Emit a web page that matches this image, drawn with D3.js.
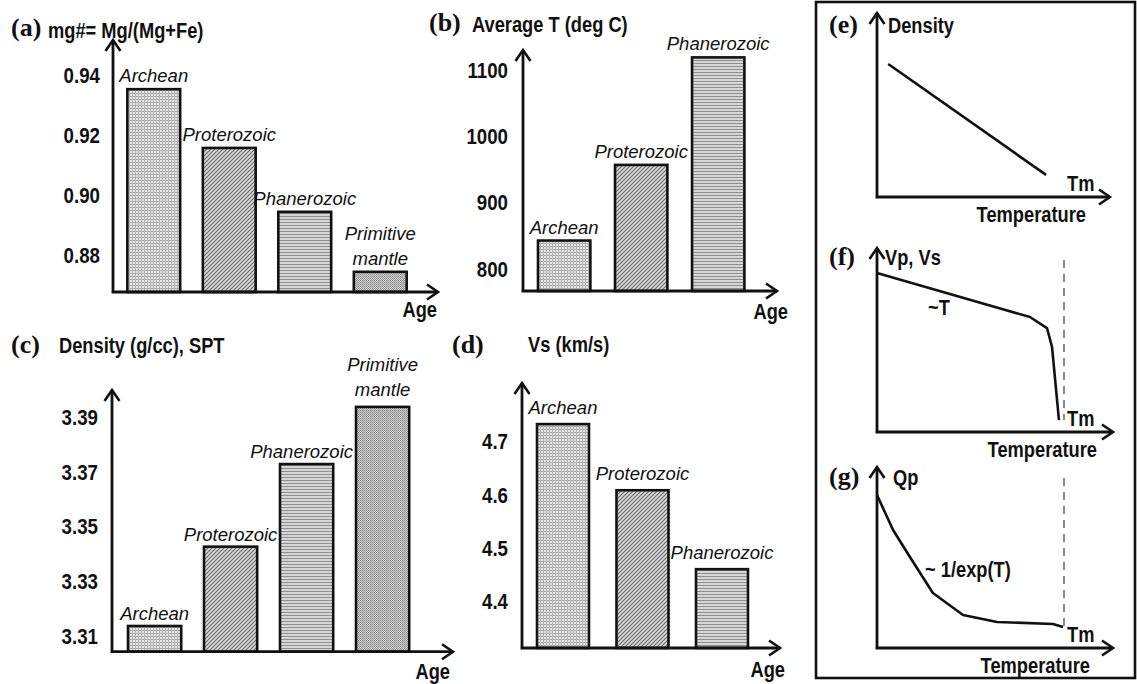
<!DOCTYPE html>
<html>
<head>
<meta charset="utf-8">
<script src="https://cdn.jsdelivr.net/npm/d3@7"></script>
<style>
  html, body { margin: 0; padding: 0; background: #fff; }
  svg { display: block; }
  .lbl { font-family: "Liberation Sans", Arial, sans-serif; font-weight: bold; font-size: 21.5px; fill: #111; }
  .tick-lbl { font-family: "Liberation Sans", Arial, sans-serif; font-weight: bold; font-size: 22px; fill: #111; }
  .era { font-family: "Liberation Sans", Arial, sans-serif; font-style: italic; font-size: 18.5px; fill: #111; }
  .tag { font-family: "Liberation Serif", "Times New Roman", serif; font-weight: bold; font-size: 26px; fill: #111; }
</style>
</head>
<body>
<svg id="fig" width="1137" height="684"></svg>
<script>
// ---- Data ----------------------------------------------------------
const erasFour = ["Archean", "Proterozoic", "Phanerozoic", "Primitive mantle"];
const erasThree = ["Archean", "Proterozoic", "Phanerozoic"];

// (a) mg# = Mg/(Mg+Fe)
const mgNumber = [0.9353, 0.9158, 0.8946, 0.8747];
const mgTicks = [0.88, 0.90, 0.92, 0.94];

// (b) average temperature, deg C
const avgTemp = [843, 957, 1119];
const tempTicks = [800, 900, 1000, 1100];

// (c) density at STP, g/cc
const densitySPT = [3.3137, 3.3427, 3.3729, 3.3938];
const densityTicks = [3.31, 3.33, 3.35, 3.37, 3.39];

// (d) shear-wave velocity, km/s
const vsValues = [4.733, 4.609, 4.461];
const vsTicks = [4.4, 4.5, 4.6, 4.7];

// (e)-(g) schematic property vs temperature (T / Tm, relative property)
const densityCurve = [[0.06, 0.723], [0.904, 0.12]];
const velocityCurve = [[0.0, 0.864], [0.818, 0.625], [0.909, 0.565], [0.936, 0.462], [0.973, 0.065]];
const qpCurve = [[0.0, 0.845], [0.086, 0.652], [0.176, 0.503], [0.299, 0.304], [0.46, 0.182],
                 [0.642, 0.144], [0.941, 0.133], [0.995, 0.116]];

// ---- Drawing -------------------------------------------------------
const svg = d3.select("#fig");
const defs = svg.append("defs");

// fill textures for each era
function pattern(id, size, bg, draw) {
  const p = defs.append("pattern").attr("id", id).attr("patternUnits", "userSpaceOnUse")
    .attr("width", size).attr("height", size);
  p.append("rect").attr("width", size).attr("height", size).attr("fill", bg);
  draw(p);
}
pattern("pat-archean", 3, "#e4e4e4", p => {
  p.append("rect").attr("x", 0).attr("y", 0).attr("width", 3).attr("height", 1).attr("fill", "#a8a8a8");
  p.append("rect").attr("x", 0).attr("y", 0).attr("width", 1).attr("height", 3).attr("fill", "#b4b4b4");
});
pattern("pat-proterozoic", 4, "#d8d8d8", p => {
  p.append("path").attr("d", "M-1,5 L5,-1 M-1,1 L1,-1 M3,5 L5,3").attr("stroke", "#6a6a6a").attr("stroke-width", 1.1);
});
pattern("pat-phanerozoic", 3, "#d6d6d6", p => {
  p.append("rect").attr("x", 0).attr("y", 0).attr("width", 3).attr("height", 1).attr("fill", "#8e8e8e");
});
pattern("pat-primitive", 2, "#cfcfcf", p => {
  p.append("rect").attr("x", 0).attr("y", 0).attr("width", 1).attr("height", 1).attr("fill", "#8a8a8a");
  p.append("rect").attr("x", 1).attr("y", 1).attr("width", 1).attr("height", 1).attr("fill", "#9a9a9a");
});
const eraFill = {
  "Archean": "url(#pat-archean)",
  "Proterozoic": "url(#pat-proterozoic)",
  "Phanerozoic": "url(#pat-phanerozoic)",
  "Primitive mantle": "url(#pat-primitive)"
};

function arrowHead(g, x, y, dir) {
  const L = 11, W = 7.5;
  let d;
  if (dir === "right") d = `M${x - L},${y - W} L${x},${y} L${x - L},${y + W}`;
  else d = `M${x - W},${y + L} L${x},${y} L${x + W},${y + L}`;
  g.append("path").attr("d", d).attr("fill", "none").attr("stroke", "#111")
    .attr("stroke-width", 2.6).attr("stroke-linejoin", "miter");
}

function drawAxes(g, x0, y0, xTip, yTip) {
  g.append("path").attr("d", `M${x0},${y0} L${x0},${yTip} M${x0 - 1.5},${y0} L${xTip},${y0}`)
    .attr("stroke", "#111").attr("stroke-width", 2.8).attr("fill", "none");
  arrowHead(g, x0, yTip, "up");
  arrowHead(g, xTip, y0, "right");
}

function barPanel(cfg) {
  const g = svg.append("g");
  const x = d3.scaleBand().domain(cfg.cats).range(cfg.xRange)
    .paddingInner(cfg.padIn).paddingOuter(cfg.padOut);
  const y = d3.scaleLinear().domain(cfg.yDomain).range(cfg.yRange);
  const base = cfg.yRange[0];

  // tick labels
  const axis = d3.axisLeft(y).tickValues(cfg.ticks).tickSize(0).tickPadding(cfg.tickPad)
    .tickFormat(cfg.fmt);
  const ag = g.append("g").attr("transform", `translate(${cfg.axisX},0)`).call(axis);
  ag.select(".domain").remove();
  ag.selectAll("text").attr("class", "tick-lbl").attr("font-family", null).attr("font-size", null);

  // bars
  g.selectAll("rect.bar").data(cfg.values).join("rect").attr("class", "bar")
    .attr("x", (d, i) => x(cfg.cats[i]))
    .attr("width", x.bandwidth())
    .attr("y", d => y(d))
    .attr("height", d => base - y(d))
    .attr("fill", (d, i) => eraFill[cfg.cats[i]])
    .attr("stroke", "#111").attr("stroke-width", 2.6);

  // era labels above bars
  cfg.values.forEach((v, i) => {
    const name = cfg.cats[i];
    const cx = x(name) + x.bandwidth() / 2 + (cfg.labelDx ? cfg.labelDx[i] : 0);
    const gap = cfg.labelGap + (cfg.labelDy ? cfg.labelDy[i] : 0);
    const lines = name === "Primitive mantle" ? ["Primitive", "mantle"] : [name];
    const t = g.append("text").attr("class", "era").attr("text-anchor", "middle");
    lines.forEach((ln, k) => {
      t.append("tspan").attr("x", cx)
        .attr("y", y(v) - gap - (lines.length - 1 - k) * 25).text(ln);
    });
  });

  drawAxes(g, cfg.axisX, base, cfg.xTip, cfg.yTip);

  g.append("text").attr("class", "lbl").attr("text-anchor", "end")
    .attr("x", cfg.ageX).attr("y", cfg.ageY).text("Age");
  g.append("text").attr("class", "tag").attr("x", cfg.tagX).attr("y", cfg.tagY).text(cfg.tag);
  g.append("text").attr("class", "lbl").attr("x", cfg.titleX).attr("y", cfg.titleY).text(cfg.title);
}

barPanel({
  cats: erasFour, values: mgNumber, ticks: mgTicks, fmt: d3.format(".2f"),
  xRange: [116, 418], padIn: 0.3, padOut: 0.15,
  yDomain: [0.868, 0.94], yRange: [292, 75], axisX: 113, tickPad: 13,
  xTip: 438, yTip: 40, labelGap: 7,
  ageX: 437, ageY: 317, tag: "(a)", tagX: 11, tagY: 36,
  title: "mg#= Mg/(Mg+Fe)", titleX: 48, titleY: 38
});

barPanel({
  cats: erasThree, values: avgTemp, ticks: tempTicks, fmt: d3.format("d"),
  xRange: [522.6, 759.8], padIn: 0.32, padOut: 0.2,
  yDomain: [767, 1100], yRange: [291, 70], axisX: 523, tickPad: 15,
  xTip: 777, yTip: 50, labelGap: 7,
  ageX: 788, ageY: 319, tag: "(b)", tagX: 429, tagY: 31,
  title: "Average T (deg C)", titleX: 472, titleY: 32
});

barPanel({
  cats: erasFour, values: densitySPT, ticks: densityTicks, fmt: d3.format(".2f"),
  xRange: [116.6, 420.6], padIn: 0.3, padOut: 0.15,
  yDomain: [3.3043, 3.39], yRange: [651.7, 417.3], axisX: 112, tickPad: 14,
  xTip: 453, yTip: 390, labelGap: 6, labelDx: [0, 0, -5, 0], labelDy: [0, 0, 0, 5],
  ageX: 450, ageY: 679, tag: "(c)", tagX: 11, tagY: 353,
  title: "Density (g/cc), SPT", titleX: 59, titleY: 353
});

barPanel({
  cats: erasThree, values: vsValues, ticks: vsTicks, fmt: d3.format(".1f"),
  xRange: [521.1, 763.9], padIn: 0.346, padOut: 0.2,
  yDomain: [4.3132, 4.7], yRange: [648, 441.7], axisX: 522, tickPad: 14,
  xTip: 780, yTip: 383, labelGap: 10,
  ageX: 785, ageY: 677, tag: "(d)", tagX: 452, tagY: 353,
  title: "Vs  (km/s)", titleX: 528, titleY: 352
});

// ---- schematic panels (e)-(g) ----
svg.append("rect").attr("x", 816).attr("y", 2).attr("width", 319).attr("height", 676)
  .attr("fill", "none").attr("stroke", "#111").attr("stroke-width", 2.6);

function schematic(cfg) {
  const g = svg.append("g");
  const x = d3.scaleLinear().domain([0, 1]).range([877, 1064]);
  const y = d3.scaleLinear().domain([0, 1]).range([cfg.y0, cfg.yTop]);
  if (cfg.dash) {
    g.append("line").attr("x1", x(1)).attr("x2", x(1)).attr("y1", cfg.dash[0]).attr("y2", cfg.dash[1])
      .attr("stroke", "#6e6e6e").attr("stroke-width", 1.6).attr("stroke-dasharray", "8,6");
  }
  g.append("path").datum(cfg.curve)
    .attr("d", d3.line().x(d => x(d[0])).y(d => y(d[1])).curve(d3.curveLinear))
    .attr("fill", "none").attr("stroke", "#111").attr("stroke-width", 2.6).attr("stroke-linejoin", "round");
  drawAxes(g, 877, cfg.y0, cfg.xTip, cfg.yTop);
  g.append("text").attr("class", "tag").attr("x", 829).attr("y", cfg.tagY).attr("font-size", 24).text(cfg.tag);
  g.append("text").attr("class", "lbl").attr("x", cfg.nameX).attr("y", cfg.tagY).text(cfg.name);
  g.append("text").attr("class", "lbl").attr("x", 1067).attr("y", cfg.y0 - 6).text("Tm");
  g.append("text").attr("class", "lbl").attr("text-anchor", "end").attr("x", cfg.tempX).attr("y", cfg.y0 + 25).text("Temperature");
  if (cfg.note) g.append("text").attr("class", "lbl").attr("x", cfg.note[0]).attr("y", cfg.note[1]).text(cfg.note[2]);
}

schematic({ curve: densityCurve, y0: 197, yTop: 13, xTip: 1110, tag: "(e)", tagY: 33,
  name: "Density", nameX: 888, tempX: 1086 });
schematic({ curve: velocityCurve, y0: 432, yTop: 248, xTip: 1113, tag: "(f)", tagY: 265,
  name: "Vp, Vs", nameX: 885, tempX: 1097, dash: [260, 420], note: [928, 315, "~T"] });
schematic({ curve: qpCurve, y0: 648, yTop: 467, xTip: 1113, tag: "(g)", tagY: 485,
  name: "Qp", nameX: 893, tempX: 1090, dash: [478, 627], note: [925, 577, "~ 1/exp(T)"] });

// The sans labels are set in a condensed bold face: squeeze glyphs horizontally.
svg.selectAll("text.lbl, text.tick-lbl").each(function () {
  const len = this.getComputedTextLength();
  d3.select(this).attr("textLength", (len * 0.85).toFixed(1)).attr("lengthAdjust", "spacingAndGlyphs");
});
</script>
</body>
</html>
